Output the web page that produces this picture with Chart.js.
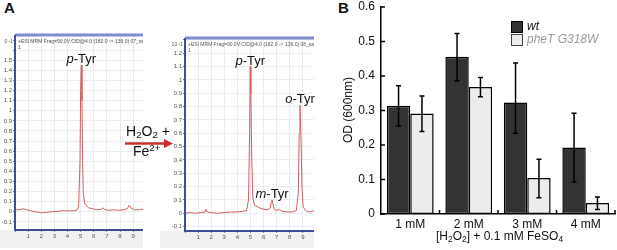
<!DOCTYPE html>
<html>
<head>
<meta charset="utf-8">
<script src="https://cdn.jsdelivr.net/npm/chart.js@4.4.0/dist/chart.umd.min.js"></script>
<style>
  body { margin: 0; background: #fff; font-family: "Liberation Sans", Arial, sans-serif; }
  #fig { position: relative; width: 617px; height: 250px; overflow: hidden; }
  canvas, .txt, svg { position: absolute; }
  .txt { white-space: nowrap; color: #111; }
  .txt sub { font-size: 70%; vertical-align: -0.25em; line-height: 0; }
  .txt sup { font-size: 70%; vertical-align: 0.55em; line-height: 0; }
</style>
</head>
<body>
<div id="fig">
  <div class="txt" style="left:4px;top:-1px;font-size:15px;font-weight:bold;">A</div>
  <div class="txt" style="left:338px;top:-1px;font-size:15px;font-weight:bold;">B</div>

  <canvas id="chromLeft" width="150" height="250" style="left:0;top:0;"></canvas>
  <canvas id="chromRight" width="160" height="250" style="left:160px;top:0;"></canvas>

  <div class="txt" style="left:126px;top:123px;font-size:14px;">H<sub>2</sub>O<sub>2</sub> +</div>
  <svg width="60" height="20" style="left:120px;top:134px;">
    <line x1="5" y1="9.5" x2="46" y2="9.5" stroke="#c9302c" stroke-width="2.5"/>
    <polygon points="44,5 53,9.5 44,14" fill="#c9302c"/>
  </svg>
  <div class="txt" style="left:133px;top:143px;font-size:14px;">Fe<sup>2+</sup></div>

  <canvas id="odChart" width="287" height="250" style="left:330px;top:0;"></canvas>
  <div class="txt" style="left:348px;top:110px;font-size:12px;transform:translate(-50%,-50%) rotate(-90deg);">OD (600nm)</div>

  <div style="position:absolute;left:511px;top:21px;width:10px;height:10px;background:#333;border:1px solid #000;"></div>
  <div class="txt" style="left:527px;top:19px;font-size:12px;font-style:italic;">wt</div>
  <div style="position:absolute;left:511px;top:34px;width:10px;height:10px;background:#ececec;border:1px solid #444;"></div>
  <div class="txt" style="left:527px;top:32px;font-size:12px;font-style:italic;color:#9a9a9a;">pheT G318W</div>

  <div class="txt" style="left:436px;top:229px;font-size:12px;">[H<sub>2</sub>O<sub>2</sub>] + 0.1 mM FeSO<sub>4</sub></div>
</div>

<script>
// ---- panel A: chromatograms (time in min, signal x10^-1) ----
const leftTimes = [0, 0.3, 0.6, 0.9, 1.2, 1.6, 2.0, 2.4, 2.8, 3.2, 3.6, 4.0, 4.4, 4.7, 4.85, 4.95, 5.0, 5.05, 5.1, 5.15, 5.2, 5.3, 5.45, 5.6, 5.9, 6.3, 6.6, 6.7, 6.8, 7.1, 7.5, 7.9, 8.3, 8.55, 8.7, 8.85, 9.1, 9.4, 9.75];
const leftSignal = [0.02, 0.02, 0.03, 0.02, 0.01, 0.0, -0.01, -0.005, 0.0, 0.005, 0.01, 0.01, 0.01, 0.015, 0.05, 0.5, 1.2, 1.45, 1.1, 0.5, 0.18, 0.09, 0.06, 0.04, 0.03, 0.02, 0.025, 0.04, 0.025, 0.015, 0.02, 0.015, 0.02, 0.03, 0.065, 0.035, 0.02, 0.02, 0.025];

const rightTimes = [0, 0.4, 0.8, 1.2, 1.55, 1.62, 1.7, 2.0, 2.5, 3.0, 3.5, 4.0, 4.4, 4.7, 4.85, 4.93, 4.98, 5.03, 5.1, 5.18, 5.3, 5.5, 5.7, 6.0, 6.3, 6.5, 6.6, 6.65, 6.72, 6.82, 7.0, 7.2, 7.4, 7.8, 8.2, 8.5, 8.65, 8.72, 8.78, 8.85, 8.93, 9.02, 9.2, 9.5, 9.85];
const rightSignal = [0.0, 0.005, 0.0, 0.005, 0.01, 0.03, 0.01, 0.005, 0.0, 0.005, 0.01, 0.01, 0.015, 0.02, 0.1, 0.6, 1.1, 0.9, 0.4, 0.12, 0.06, 0.05, 0.04, 0.03, 0.025, 0.04, 0.09, 0.1, 0.07, 0.03, 0.02, 0.03, 0.015, 0.01, 0.01, 0.02, 0.15, 0.6, 0.81, 0.6, 0.2, 0.05, 0.02, 0.01, 0.02];

const leftPeakNames = ['p-Tyr'];
const leftPeakTimes = [5.05];
const leftPeakHeights = [1.45];
const rightPeakNames = ['p-Tyr', 'm-Tyr', 'o-Tyr'];
const rightPeakTimes = [4.98, 6.65, 8.78];
const rightPeakHeights = [1.1, 0.1, 0.81];

// ---- panel B: growth under peroxide ----
const categories = ['1 mM', '2 mM', '3 mM', '4 mM'];
const wtOD = [0.314, 0.456, 0.323, 0.193];
const wtLow = [0.255, 0.386, 0.234, 0.093];
const wtHigh = [0.372, 0.523, 0.438, 0.292];
const mutOD = [0.291, 0.368, 0.104, 0.032];
const mutLow = [0.239, 0.340, 0.047, 0.013];
const mutHigh = [0.342, 0.396, 0.159, 0.049];

const FONT = '"Liberation Sans", Arial, sans-serif';
const axisBlue = '#3d4d96';

// frame, header strip and peak names of the instrument screenshot
const chromFrame = {
  id: 'chromFrame',
  beforeDraw(chart, args, opts) {
    const {ctx, chartArea: a} = chart;
    ctx.save();
    ctx.fillStyle = '#f1f1f1';
    ctx.fillRect(0, a.bottom, a.right, chart.height - a.bottom - 2);
    ctx.restore();
  },
  afterDraw(chart, args, opts) {
    const {ctx, chartArea: a, scales} = chart;
    ctx.save();
    // blue frame
    ctx.strokeStyle = '#7d8dd0';
    ctx.lineWidth = 3;
    ctx.beginPath(); ctx.moveTo(a.left, a.top); ctx.lineTo(a.right, a.top); ctx.stroke();
    ctx.strokeStyle = axisBlue;
    ctx.lineWidth = 2;
    ctx.beginPath(); ctx.moveTo(a.left, a.top); ctx.lineTo(a.left, a.bottom); ctx.lineTo(a.right, a.bottom); ctx.stroke();

    // header text
    ctx.save();
    ctx.beginPath(); ctx.rect(a.left, a.top, a.right - a.left, 20); ctx.clip();
    ctx.fillStyle = '#555';
    ctx.font = '5px ' + FONT;
    ctx.textBaseline = 'middle';
    ctx.fillText(opts.header, a.left + 3, a.top + 7);
    ctx.fillText('1', a.left + 3, a.top + 13);
    ctx.restore();
    ctx.fillStyle = '#555';
    ctx.font = '5px ' + FONT;
    ctx.textAlign = 'right';
    ctx.textBaseline = 'middle';
    ctx.fillText(opts.expLabel, a.left - 2, a.top + 7);

    // peak names
    ctx.fillStyle = '#111';
    ctx.textAlign = 'left';
    ctx.textBaseline = 'alphabetic';
    opts.names.forEach((name, i) => {
      const px = scales.x.getPixelForValue(opts.times[i]);
      const py = scales.y.getPixelForValue(opts.heights[i]);
      ctx.font = 'italic 13px ' + FONT;
      const w1 = ctx.measureText(name[0]).width;
      ctx.font = '13px ' + FONT;
      const w2 = ctx.measureText(name.slice(1)).width;
      const x0 = px - (w1 + w2) / 2;
      ctx.font = 'italic 13px ' + FONT;
      ctx.fillText(name[0], x0, py - 2);
      ctx.font = '13px ' + FONT;
      ctx.fillText(name.slice(1), x0 + w1, py - 2);
    });
    ctx.restore();
  }
};

function chromChart(id, times, signal, cfg) {
  return new Chart(document.getElementById(id), {
    type: 'line',
    data: {
      datasets: [{
        data: times.map((t, i) => ({x: t, y: signal[i]})),
        borderColor: '#d25f62',
        borderWidth: 1,
        pointRadius: 0,
        tension: 0
      }]
    },
    options: {
      responsive: false,
      animation: false,
      layout: {padding: cfg.padding},
      plugins: {
        legend: {display: false},
        tooltip: {enabled: false},
        chromFrame: cfg.frame
      },
      scales: {
        x: {
          type: 'linear',
          min: cfg.xMin, max: cfg.xMax,
          afterFit: s => { s.height = cfg.xHeight; },
          border: {display: false},
          grid: {color: '#e9e9ef', tickColor: '#888', tickLength: 2},
          ticks: {
            stepSize: 1, includeBounds: false, autoSkip: false, maxRotation: 0,
            padding: 1, color: '#555', font: {size: 6, family: FONT},
            callback: v => (v >= 1 && v <= 9) ? String(v) : ''
          }
        },
        y: {
          min: cfg.yMin, max: cfg.yMax,
          afterFit: s => { s.width = cfg.yWidth; },
          border: {display: false},
          grid: {color: '#ececf2', tickColor: '#777', tickLength: 2},
          ticks: {
            stepSize: 0.1, includeBounds: false, autoSkip: false,
            padding: 1, color: '#555', font: {size: 6, family: FONT},
            callback: v => v <= cfg.topLabel + 0.01 ? String(+v.toFixed(1)) : ''
          }
        }
      }
    },
    plugins: [chromFrame]
  });
}

chromChart('chromLeft', leftTimes, leftSignal, {
  padding: {left: 0, top: 35, right: 7, bottom: 0},
  xMin: 0, xMax: 9.75, yMin: -0.18, yMax: 1.75,
  xHeight: 20, yWidth: 15, topLabel: 1.5,
  frame: {
    header: '+ESI MRM Frag=90.0V CID@4.0 (182.0 -> 136.0) 07_sa',
    expLabel: '0 -1',
    names: leftPeakNames, times: leftPeakTimes, heights: leftPeakHeights
  }
});

chromChart('chromRight', rightTimes, rightSignal, {
  padding: {left: 0, top: 38, right: 6, bottom: 0},
  xMin: 0, xMax: 9.85, yMin: -0.133, yMax: 1.315,
  xHeight: 19, yWidth: 25, topLabel: 1.2,
  frame: {
    header: '+ESI MRM Frag=90.0V CID@4.0 (182.0 -> 136.0) 08_sar',
    expLabel: '10 -1',
    names: rightPeakNames, times: rightPeakTimes, heights: rightPeakHeights
  }
});

// error bars and inward ticks for panel B
const errorBars = {
  id: 'errorBars',
  afterDatasetsDraw(chart) {
    const {ctx, scales: {x, y}, chartArea: a} = chart;
    const lows = [wtLow, mutLow];
    const highs = [wtHigh, mutHigh];
    ctx.save();
    ctx.strokeStyle = '#000';
    ctx.lineWidth = 1.5;
    chart.data.datasets.forEach((ds, d) => {
      chart.getDatasetMeta(d).data.forEach((bar, i) => {
        const yl = y.getPixelForValue(lows[d][i]);
        const yh = y.getPixelForValue(highs[d][i]);
        ctx.beginPath();
        ctx.moveTo(bar.x, yl); ctx.lineTo(bar.x, yh);
        ctx.moveTo(bar.x - 2.5, yl); ctx.lineTo(bar.x + 2.5, yl);
        ctx.moveTo(bar.x - 2.5, yh); ctx.lineTo(bar.x + 2.5, yh);
        ctx.stroke();
      });
    });
    // ticks pointing into the plot
    y.ticks.forEach(t => {
      const py = y.getPixelForValue(t.value);
      ctx.beginPath(); ctx.moveTo(a.left, py); ctx.lineTo(a.left + 4, py); ctx.stroke();
    });
    const half = (x.getPixelForValue(1) - x.getPixelForValue(0)) / 2;
    categories.forEach((c, i) => {
      const px = x.getPixelForValue(i) + half;
      ctx.beginPath(); ctx.moveTo(px, a.bottom); ctx.lineTo(px, a.bottom - 4); ctx.stroke();
    });
    ctx.restore();
  }
};

new Chart(document.getElementById('odChart'), {
  type: 'bar',
  data: {
    labels: categories,
    datasets: [
      {label: 'wt', data: wtOD, backgroundColor: '#333333', borderColor: '#000', borderWidth: 1.5, borderSkipped: false},
      {label: 'pheT G318W', data: mutOD, backgroundColor: '#ececec', borderColor: '#000', borderWidth: 1.5, borderSkipped: false}
    ]
  },
  options: {
    responsive: false,
    animation: false,
    layout: {padding: {left: 0, top: 7, right: 2, bottom: 0}},
    datasets: {bar: {categoryPercentage: 0.8, barPercentage: 1.0}},
    plugins: {legend: {display: false}, tooltip: {enabled: false}},
    scales: {
      x: {
        afterFit: s => { s.height = 36; s.paddingLeft = 0; s.paddingRight = 0; },
        border: {color: '#000', width: 1.5},
        grid: {display: false, drawTicks: false},
        ticks: {padding: 3, color: '#111', font: {size: 12, family: FONT}}
      },
      y: {
        min: 0, max: 0.6,
        afterFit: s => { s.width = 51; s.paddingTop = 0; s.paddingBottom = 0; },
        border: {color: '#000', width: 1.5},
        grid: {display: false, drawTicks: false},
        ticks: {
          stepSize: 0.1, padding: 6, color: '#111', font: {size: 12, family: FONT},
          callback: v => String(+v.toFixed(1))
        }
      }
    }
  },
  plugins: [errorBars]
});
</script>
</body>
</html>
